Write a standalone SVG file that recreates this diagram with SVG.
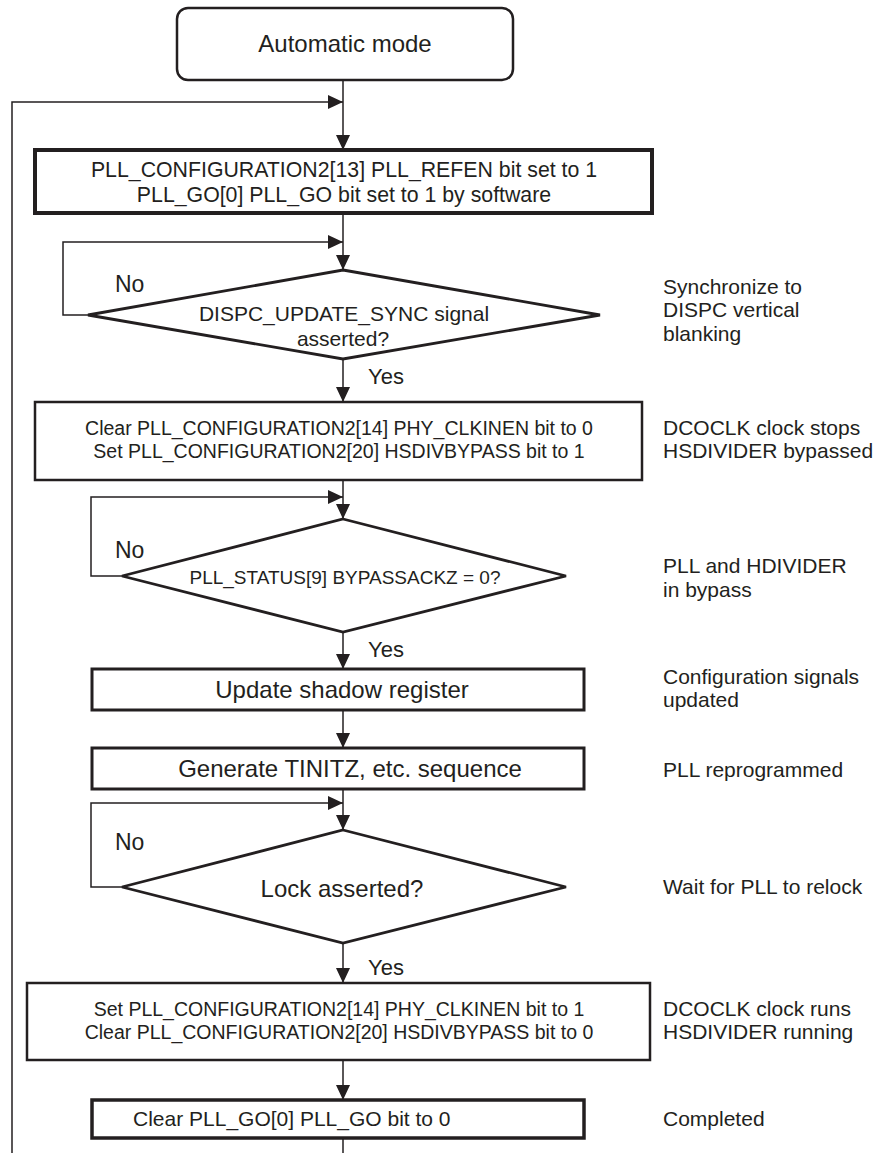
<svg xmlns="http://www.w3.org/2000/svg" width="876" height="1153" viewBox="0 0 876 1153">
<defs>
<marker id="ah" viewBox="0 0 15 14" refX="15" refY="7" markerWidth="15" markerHeight="14" markerUnits="userSpaceOnUse" orient="auto">
<path d="M0,0 L15,7 L0,14 Z" fill="#231f20"/>
</marker>
<style>
.t{font-family:"Liberation Sans",Arial,sans-serif;fill:#231f20}
.c{text-anchor:middle}
.n{fill:#fff;stroke:#231f20}
.ln{fill:none;stroke:#231f20;stroke-width:1.5}
.r{font-size:21px}
.s{font-size:19.5px}
</style>
</defs>
<rect width="876" height="1153" fill="#fff"/>
<g id="connectors">
<line class="ln" x1="343" y1="80" x2="343" y2="150" marker-end="url(#ah)"/>
<polyline class="ln" points="12,1153 12,102 343,102" marker-end="url(#ah)"/>
<line class="ln" x1="343" y1="213" x2="343" y2="270" marker-end="url(#ah)"/>
<polyline class="ln" points="90,315 63,315 63,242 343,242" marker-end="url(#ah)"/>
<line class="ln" x1="343" y1="359" x2="343" y2="402" marker-end="url(#ah)"/>
<line class="ln" x1="343" y1="480" x2="343" y2="519" marker-end="url(#ah)"/>
<polyline class="ln" points="122,576 91,576 91,497 343,497" marker-end="url(#ah)"/>
<line class="ln" x1="343" y1="632" x2="343" y2="669" marker-end="url(#ah)"/>
<line class="ln" x1="343" y1="710" x2="343" y2="748" marker-end="url(#ah)"/>
<line class="ln" x1="343" y1="789" x2="343" y2="830" marker-end="url(#ah)"/>
<polyline class="ln" points="122,887 91,887 91,803 343,803" marker-end="url(#ah)"/>
<line class="ln" x1="343" y1="943" x2="343" y2="983" marker-end="url(#ah)"/>
<line class="ln" x1="343" y1="1060" x2="343" y2="1100" marker-end="url(#ah)"/>
<line class="ln" x1="343" y1="1138" x2="343" y2="1153"/>
</g>
<g id="start">
<rect class="n" x="177" y="8" width="336" height="72" rx="11" stroke-width="2.5"/>
<text class="t c" x="345" y="52" font-size="24">Automatic mode</text>
</g>
<g id="box1">
<rect class="n" x="35" y="150" width="617" height="63" stroke-width="4"/>
<text class="t c" x="344" y="177" font-size="21.3">PLL_CONFIGURATION2[13] PLL_REFEN bit set to 1</text>
<text class="t c" x="344" y="202" font-size="21.3">PLL_GO[0] PLL_GO bit set to 1 by software</text>
</g>
<g id="dec1">
<polygon class="n" points="343,270 600,315 343,359 88,315" stroke-width="2.8"/>
<text class="t c" x="344" y="321" font-size="21">DISPC_UPDATE_SYNC signal</text>
<text class="t c" x="343" y="346" font-size="21">asserted?</text>
<text class="t" x="115" y="292" font-size="23">No</text>
<text class="t" x="368" y="384" font-size="22">Yes</text>
</g>
<g id="note1">
<text class="t r" x="663" y="294">Synchronize to</text>
<text class="t r" x="663" y="317">DISPC vertical</text>
<text class="t r" x="663" y="341">blanking</text>
</g>
<g id="box2">
<rect class="n" x="35" y="402" width="607" height="78" stroke-width="2.5"/>
<text class="t c s" x="339" y="435">Clear PLL_CONFIGURATION2[14] PHY_CLKINEN bit to 0</text>
<text class="t c s" x="339" y="458">Set PLL_CONFIGURATION2[20] HSDIVBYPASS bit to 1</text>
</g>
<g id="note2">
<text class="t r" x="663" y="435">DCOCLK clock stops</text>
<text class="t r" x="663" y="458">HSDIVIDER bypassed</text>
</g>
<g id="dec2">
<polygon class="n" points="343,519 566,576 343,632 122,576" stroke-width="2.8"/>
<text class="t c" x="345" y="584" font-size="19">PLL_STATUS[9] BYPASSACKZ = 0?</text>
<text class="t" x="115" y="558" font-size="23">No</text>
<text class="t" x="368" y="657" font-size="22">Yes</text>
</g>
<g id="note3">
<text class="t r" x="663" y="573">PLL and HDIVIDER</text>
<text class="t r" x="663" y="597">in bypass</text>
</g>
<g id="box3">
<rect class="n" x="92" y="669" width="492" height="41" stroke-width="3"/>
<text class="t c" x="342" y="698" font-size="24">Update shadow register</text>
</g>
<g id="note4">
<text class="t r" x="663" y="684">Configuration signals</text>
<text class="t r" x="663" y="707">updated</text>
</g>
<g id="box4">
<rect class="n" x="92" y="748" width="492" height="41" stroke-width="3"/>
<text class="t c" x="350" y="777" font-size="24">Generate TINITZ, etc. sequence</text>
</g>
<g id="note5">
<text class="t r" x="663" y="777">PLL reprogrammed</text>
</g>
<g id="dec3">
<polygon class="n" points="343,830 566,887 343,943 122,887" stroke-width="2.8"/>
<text class="t c" x="342" y="897" font-size="24">Lock asserted?</text>
<text class="t" x="115" y="850" font-size="23">No</text>
<text class="t" x="368" y="975" font-size="22">Yes</text>
</g>
<g id="note6">
<text class="t r" x="663" y="894">Wait for PLL to relock</text>
</g>
<g id="box5">
<rect class="n" x="27" y="983" width="623" height="77" stroke-width="2.5"/>
<text class="t c s" x="339" y="1016">Set PLL_CONFIGURATION2[14] PHY_CLKINEN bit to 1</text>
<text class="t c s" x="339" y="1039">Clear PLL_CONFIGURATION2[20] HSDIVBYPASS bit to 0</text>
</g>
<g id="note7">
<text class="t r" x="663" y="1016">DCOCLK clock runs</text>
<text class="t r" x="663" y="1039">HSDIVIDER running</text>
</g>
<g id="box6">
<rect class="n" x="92" y="1100" width="492" height="38" stroke-width="3.5"/>
<text class="t" x="133" y="1126" font-size="21">Clear PLL_GO[0] PLL_GO bit to 0</text>
</g>
<g id="note8">
<text class="t r" x="663" y="1126">Completed</text>
</g>
</svg>
